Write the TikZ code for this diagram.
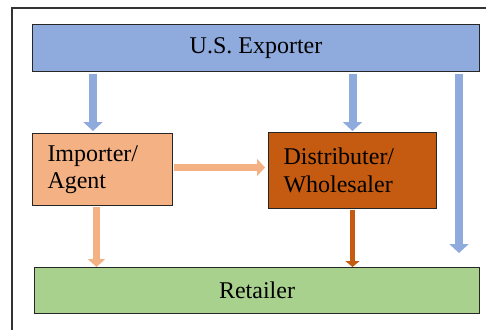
\documentclass[tikz,border=0pt]{standalone}
\usepackage{fontspec}
\setmainfont{Liberation Serif}
\newfontfamily\diagfont{Liberation Serif}
\usetikzlibrary{arrows.meta}
\definecolor{cblue}{HTML}{8FAADC}
\definecolor{clorange}{HTML}{F4B183}
\definecolor{cdorange}{HTML}{C55A11}
\definecolor{cgreen}{HTML}{A9D18E}
\definecolor{cframe}{HTML}{333333}
\tikzset{
  box/.style={draw=black!85, line width=1pt, anchor=north west, inner sep=0pt,
    font=\diagfont\fontsize{24}{27.5}\selectfont},
  textbox/.style={box, align=left, inner xsep=15pt},
  bluearrow/.style={draw=cblue, line width=8pt, -{Triangle[width=19pt,length=9pt]}},
  lorarrow/.style={draw=clorange, line width=7pt, -{Triangle[width=17pt,length=8pt]}},
  dorarrow/.style={draw=cdorange, line width=5pt, -{Triangle[width=14pt,length=6pt]}}
}
\begin{document}
\begin{tikzpicture}[x=1pt,y=-1pt]
\useasboundingbox (0,0) rectangle (486,329);
\clip (0,0) rectangle (486,329);
\fill[white] (0,0) rectangle (486,329);
\draw[cframe, line width=1.2pt] (12,340) -- (12,8) -- (500,8);
% nodes
\node[box, fill=cblue, minimum width=447pt, minimum height=47pt] (exp) at (32,24) {U.S. Exporter};
\node[textbox, fill=clorange, text width=110pt, minimum height=72pt] (imp) at (32,133) {Importer/\\Agent};
\node[textbox, fill=cdorange, text width=138pt, minimum height=76pt] (dist) at (268,132) {Distributer/\\Wholesaler};
\node[box, fill=cgreen, minimum width=445pt, minimum height=46pt] (ret) at (34,267) {Retailer};
% free end of the direct arrow
\coordinate (dirtop) at ([xshift=-21pt]exp.south east);
\coordinate (dirend) at ([xshift=-21pt,yshift=14pt]exp.south east |- ret.north);
% arrows
\draw[bluearrow] ([xshift=-9.5pt,yshift=-1.5pt]imp.north |- exp.south) -- ([xshift=-9.5pt,yshift=2pt]imp.north);
\draw[bluearrow] ([yshift=-1.5pt]dist.north |- exp.south) -- ([yshift=1pt]dist.north);
\draw[bluearrow] ([yshift=-1.5pt]dirtop) -- (dirend);
\draw[lorarrow] ([xshift=1pt,yshift=2pt]imp.east) -- ([xshift=-3pt,yshift=2pt]dist.west |- imp.east);
\draw[lorarrow] ([xshift=-6pt,yshift=-0.5pt]imp.south) -- ([xshift=-6pt]imp.south |- ret.north);
\draw[dorarrow] ([yshift=-0.5pt]dist.south) -- (dist.south |- ret.north);
\end{tikzpicture}
\end{document}
